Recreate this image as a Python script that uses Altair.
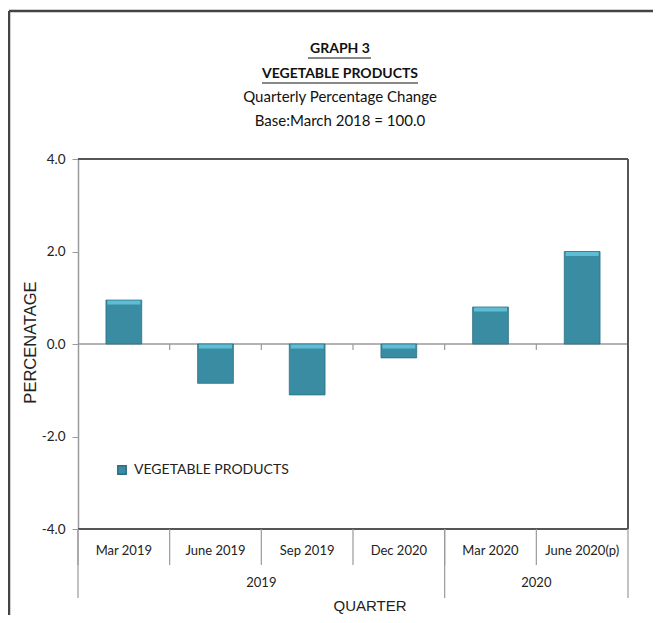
import altair as alt
import pandas as pd

quarters = ["Mar 2019", "June 2019", "Sep 2019", "Dec 2020", "Mar 2020", "June 2020(p)"]
values = [0.95, -0.85, -1.1, -0.3, 0.8, 2.0]
years = ["2019", "2020"]
year_centre_anchor = ["Sep 2019", "June 2020(p)"]   # band start = centre of the year group
year_edges = ["Mar 2019", "Mar 2020"]
y_ticks = [-4, -2, 0, 2, 4]
series_name = "VEGETABLE PRODUCTS"
title_lines = ["GRAPH 3", "VEGETABLE PRODUCTS", "Quarterly Percentage Change", "Base:March 2018 = 100.0"]

W, H = 550, 370
CAL = "Liberation Sans Narrow, Lato, sans-serif"
ARIAL = "Liberation Sans, Arial, sans-serif"
BAR = "#3A8CA3"
BAR_TOP = "#63C2DA"
BAR_EDGE = "#2B6E80"
DARK = "#555555"
GREY = "#9a9a9a"

df = pd.DataFrame({"quarter": quarters, "value": values, "series": series_name})
df["top"] = df["value"].clip(lower=0)
one = pd.DataFrame({"a": [0]})

xscale = alt.Scale(type="band", domain=quarters, paddingInner=0, paddingOuter=0)
yscale = alt.Scale(domain=[-4, 4], nice=False, zero=False)


def X(bp=None):
    if bp is None:
        return alt.X("quarter:N", scale=xscale, axis=None, sort=quarters)
    return alt.X("quarter:N", scale=xscale, axis=None, sort=quarters, bandPosition=bp)


bars = alt.Chart(df).mark_bar(
    width=alt.RelativeBandSize(0.39), stroke=BAR_EDGE, strokeWidth=0.8
).encode(
    x=X(),
    y=alt.Y(
        "value:Q",
        scale=yscale,
        axis=alt.Axis(
            values=y_ticks, grid=False,
            labelExpr="replace(format(datum.value, '.1f'), '\u2212', '-')",
            domainColor=GREY, domainWidth=1.5, tickColor=GREY, tickSize=6,
            labelPadding=7, labelFont=CAL, labelFontSize=13.5, labelColor="#222",
            title="PERCENATAGE", titleFont=ARIAL, titleFontSize=16.5,
            titleFontWeight="normal", titleColor="#222", titleX=-40, titleY=183,
        ),
    ),
    color=alt.Color(
        "series:N",
        scale=alt.Scale(range=[BAR]),
        legend=alt.Legend(
            orient="none", legendX=37, legendY=304, title=None,
            symbolType="square", symbolSize=70, symbolStrokeColor=BAR_EDGE,
            labelFont=CAL, labelFontSize=14, labelColor="#222", labelOffset=5,
        ),
    ),
)

bar_top = alt.Chart(df).mark_tick(
    color=BAR_TOP, thickness=4, size=33, yOffset=2.5, opacity=0.9
).encode(x=X(), y=alt.Y("top:Q", scale=yscale))

zero_line = alt.Chart(one).mark_rule(color=GREY, strokeWidth=1.5).encode(y=alt.datum(0))

zero_ticks = alt.Chart(pd.DataFrame({"quarter": quarters[1:]})).mark_rule(
    color=GREY, strokeWidth=1.2
).encode(x=X(0), y=alt.datum(0), y2=alt.datum(-0.13))

frame_top = alt.Chart(one).mark_rule(color=DARK, strokeWidth=2).encode(
    x=alt.value(0), x2=alt.value(W), y=alt.value(0))
frame_bottom = alt.Chart(one).mark_rule(color=DARK, strokeWidth=2).encode(
    x=alt.value(0), x2=alt.value(W), y=alt.value(H))
frame_right = alt.Chart(one).mark_rule(color=DARK, strokeWidth=2).encode(
    x=alt.value(W), y=alt.value(0), y2=alt.value(H))

# category separators under the plot
cat_sep = alt.Chart(pd.DataFrame({"quarter": quarters})).mark_rule(color=GREY, strokeWidth=1.2).encode(
    x=X(0), y=alt.value(H), y2=alt.value(H + 36))
year_sep = alt.Chart(pd.DataFrame({"quarter": year_edges})).mark_rule(color=GREY, strokeWidth=1.2).encode(
    x=X(0), y=alt.value(H), y2=alt.value(H + 69))
end_sep = alt.Chart(pd.DataFrame({"quarter": quarters[-1:]})).mark_rule(color=GREY, strokeWidth=1.2).encode(
    x=X(1), y=alt.value(H), y2=alt.value(H + 69))

cat_labels = alt.Chart(pd.DataFrame({"quarter": quarters})).mark_text(
    font=CAL, fontSize=13, color="#222", baseline="middle"
).encode(x=X(), y=alt.value(H + 22), text="quarter:N")

year_labels = alt.Chart(pd.DataFrame({"quarter": year_centre_anchor, "year": years})).mark_text(
    font=CAL, fontSize=13, color="#222", baseline="middle"
).encode(x=X(0), y=alt.value(H + 54), text="year:N")

x_title = alt.Chart(one).mark_text(
    text="QUARTER", font=ARIAL, fontSize=15, color="#222", baseline="alphabetic"
).encode(x=alt.value(292), y=alt.value(H + 82))

# title block
title_specs = [(-110, True), (-85, True), (-62, False), (-38, False)]
titles = []
for line, (ty, bold) in zip(title_lines, title_specs):
    titles.append(
        alt.Chart(one).mark_text(
            text=line, font=CAL, fontSize=14 if bold else 15,
            fontWeight="bold" if bold else "normal", color="#111", baseline="middle"
        ).encode(x=alt.value(262), y=alt.value(ty))
    )
underline1 = alt.Chart(one).mark_rule(color="#111", strokeWidth=1).encode(
    x=alt.value(230), x2=alt.value(293), y=alt.value(-101))
underline2 = alt.Chart(one).mark_rule(color="#111", strokeWidth=1).encode(
    x=alt.value(184), x2=alt.value(340), y=alt.value(-76))

# outer frame
outer_top = alt.Chart(one).mark_rule(color="#444", strokeWidth=2.5).encode(
    x=alt.value(-69), x2=alt.value(W + 25), y=alt.value(-148))
outer_left = alt.Chart(one).mark_rule(color="#444", strokeWidth=2.5).encode(
    x=alt.value(-69), y=alt.value(-148), y2=alt.value(H + 90))

chart = alt.layer(
    outer_top, outer_left,
    zero_line, zero_ticks,
    bars, bar_top,
    frame_top, frame_bottom, frame_right,
    cat_sep, year_sep, end_sep,
    cat_labels, year_labels, x_title,
    *titles, underline1, underline2,
).properties(
    width=W, height=H,
    autosize=alt.AutoSizeParams(type="none"),
    padding={"left": 70, "top": 151, "right": 25, "bottom": 86},
).configure_view(stroke=None)

chart.save("out.html", embed_options={"renderer": "svg", "actions": False})
